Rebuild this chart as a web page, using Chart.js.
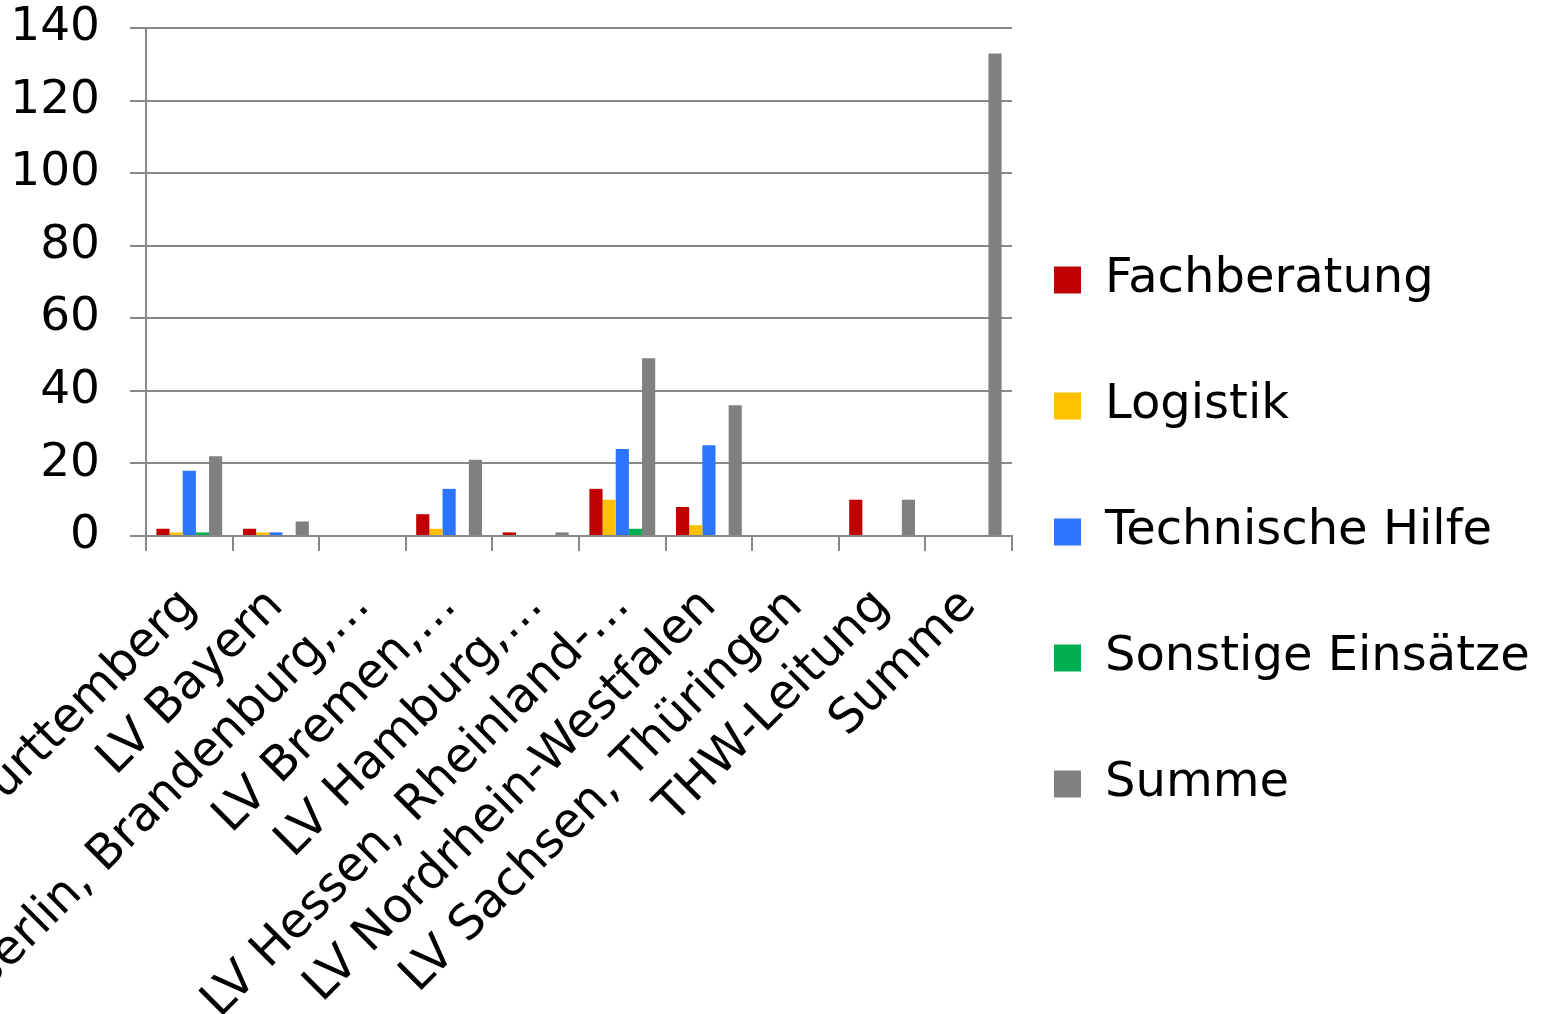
<!DOCTYPE html>
<html>
<head>
<meta charset="utf-8">
<script src="https://cdn.jsdelivr.net/npm/chart.js@4.4.1/dist/chart.umd.min.js"></script>
<style>
  html, body { margin: 0; padding: 0; background: #fff; }
  #chart { display: block; }
</style>
</head>
<body>
<canvas id="chart" width="1545" height="1014"></canvas>
<script>
const categories = [
  "LV Baden-Württemberg", "LV Bayern", "LV Berlin, Brandenburg,…", "LV Bremen,…",
  "LV Hamburg,…", "LV Hessen, Rheinland-…", "LV Nordrhein-Westfalen",
  "LV Sachsen, Thüringen", "THW-Leitung", "Summe"
];
const fachberatung      = [2, 2, 0, 6, 1, 13, 8, 0, 10, 0];
const logistik          = [1, 1, 0, 2, 0, 10, 3, 0, 0, 0];
const technischeHilfe   = [18, 1, 0, 13, 0, 24, 25, 0, 0, 0];
const sonstigeEinsaetze = [1, 0, 0, 0, 0, 2, 0, 0, 0, 0];
const summe             = [22, 4, 0, 21, 1, 49, 36, 0, 10, 133];
const yTicks = [0, 20, 40, 60, 80, 100, 120, 140];

const gridGray = "#888888";

function makeSet(label, data, color) {
  return {
    label: label,
    data: data,
    backgroundColor: color,
    borderWidth: 0,
    categoryPercentage: 0.76,
    barPercentage: 1.0
  };
}

// nudge the legend box after layout so the plot keeps its width
const legendShift = {
  id: "legendShift",
  afterLayout(chart) {
    const lg = chart.legend;
    if (!lg) return;
    lg.left -= 36;
    lg.top += 25;
    lg.bottom += 25;
  }
};

Chart.defaults.color = "#000";

new Chart(document.getElementById("chart").getContext("2d"), {
  type: "bar",
  data: {
    labels: categories,
    datasets: [
      makeSet("Fachberatung", fachberatung, "#C00000"),
      makeSet("Logistik", logistik, "#FFC000"),
      makeSet("Technische Hilfe", technischeHilfe, "#2B75FF"),
      makeSet("Sonstige Einsätze", sonstigeEinsaetze, "#00B050"),
      makeSet("Summe", summe, "#808080")
    ]
  },
  plugins: [legendShift],
  options: {
    responsive: false,
    animation: false,
    layout: {
      padding: { left: 12, right: 0, top: 0, bottom: 0 }
    },
    plugins: {
      legend: {
        display: true,
        position: "right",
        maxWidth: 533,
        labels: {
          font: { family: "DejaVu Sans", size: 48 },
          boxWidth: 27,
          boxHeight: 27,
          padding: 78
        }
      },
      tooltip: { enabled: false }
    },
    scales: {
      x: {
        grid: {
          offset: true,
          drawOnChartArea: false,
          drawTicks: true,
          tickLength: 15,
          color: gridGray,
          lineWidth: 2
        },
        border: { color: gridGray, width: 2 },
        ticks: {
          font: { family: "DejaVu Sans", size: 48 },
          maxRotation: 45,
          minRotation: 45,
          autoSkip: false,
          padding: 27
        },
        afterFit: function (scale) {
          scale.height = 1014 - 536;
          scale.paddingLeft = 0;
          scale.paddingRight = 0;
        }
      },
      y: {
        min: 0,
        max: 140,
        afterBuildTicks: function (scale) {
          scale.ticks = yTicks.map(v => ({ value: v }));
        },
        grid: {
          color: gridGray,
          lineWidth: 2,
          tickLength: 16
        },
        border: { color: gridGray, width: 2 },
        ticks: {
          font: { family: "DejaVu Sans", size: 47 },
          padding: 30
        },
        afterFit: function (scale) {
          scale.width = 134;
          scale.paddingTop = 28;
          scale.paddingBottom = 0;
        }
      }
    }
  }
});
</script>
</body>
</html>
